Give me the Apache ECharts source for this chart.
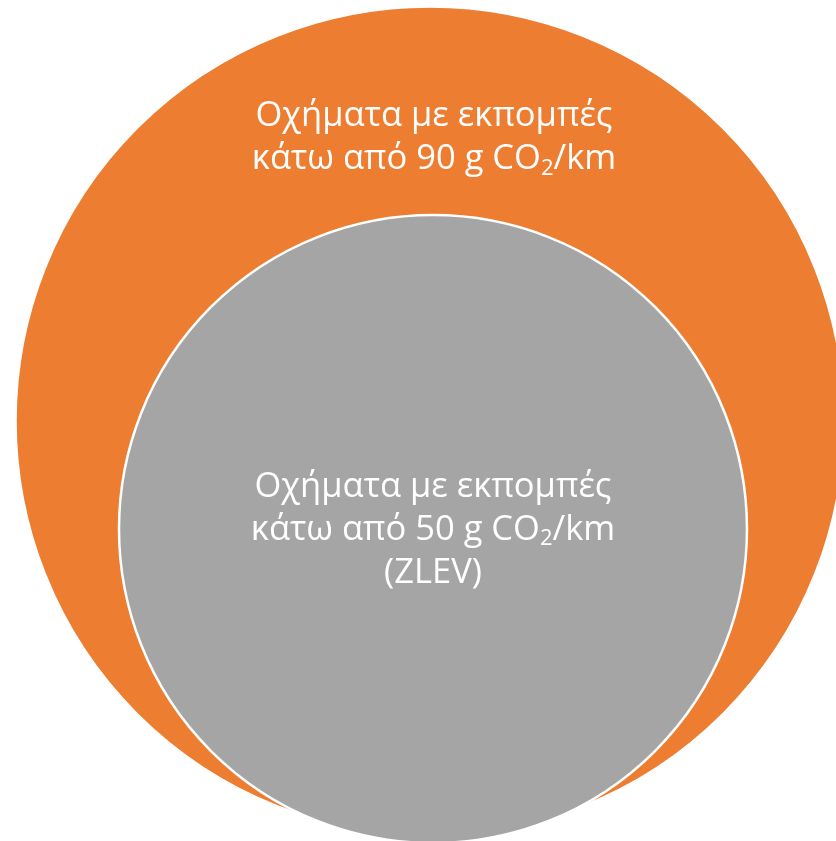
<!DOCTYPE html>
<html>
<head>
<meta charset="utf-8">
<title>Οχήματα χαμηλών εκπομπών</title>
<script src="https://cdn.jsdelivr.net/npm/echarts@6/dist/echarts.min.js"></script>
<style>
  html, body { margin: 0; padding: 0; background: #ffffff; }
  #chart { width: 836px; height: 841px; }
</style>
</head>
<body>
<div id="chart"></div>
<script>
// Two nested sets: vehicles under 90 g CO2/km contain the ZLEV group (under 50 g CO2/km).
const circleNames = ['Κάτω από 90 g CO2/km', 'ZLEV'];
const centerX = [430, 433];
const centerY = [421, 529];
const radius = [414, 314];
const labelX = [434, 433];
const labelY = [138, 530];
const labelTexts = [
  'Οχήματα με εκπομπές\nκάτω από 90 g CO{sub|2}/km',
  'Οχήματα με εκπομπές\nκάτω από 50 g CO{sub|2}/km\n(ZLEV)'
];
const fillColors = ['#ED7D31', '#A5A5A5'];

const chart = echarts.init(document.getElementById('chart'), null, { renderer: 'canvas' });

const circleData = circleNames.map((name, i) => ({
  name: name,
  value: [centerX[i], centerY[i], radius[i], labelX[i], labelY[i]],
  labelText: labelTexts[i],
  color: fillColors[i]
}));

const FONT = '"Open Sans", "Noto Sans", sans-serif';

chart.setOption({
  backgroundColor: '#ffffff',
  animation: false,
  grid: { left: 0, right: 0, top: 0, bottom: 0 },
  xAxis: { type: 'value', min: 0, max: 836, show: false },
  yAxis: { type: 'value', min: 0, max: 841, inverse: true, show: false },
  series: [{
    type: 'custom',
    coordinateSystem: 'cartesian2d',
    data: circleData,
    clip: false,
    renderItem: function (params, api) {
      const item = circleData[params.dataIndex];
      const c = api.coord([api.value(0), api.value(1)]);
      const r = api.size([api.value(2), 0])[0];
      const t = api.coord([api.value(3), api.value(4)]);
      return {
        type: 'group',
        children: [{
          type: 'circle',
          shape: { cx: c[0], cy: c[1], r: r },
          style: {
            fill: item.color,
            stroke: '#ffffff',
            lineWidth: params.dataIndex === 0 ? 1.5 : 2.5
          }
        }, {
          type: 'text',
          x: t[0],
          y: t[1],
          style: {
            text: item.labelText,
            fill: '#ffffff',
            fontFamily: FONT,
            fontSize: 34.5,
            fontWeight: 400,
            lineHeight: 43,
            align: 'center',
            verticalAlign: 'middle',
            rich: {
              sub: {
                fill: '#ffffff',
                fontFamily: FONT,
                fontSize: 22,
                fontWeight: 400,
                lineHeight: 22,
                padding: [18, 0, 0, 0]
              }
            }
          }
        }]
      };
    }
  }]
});
</script>
</body>
</html>
